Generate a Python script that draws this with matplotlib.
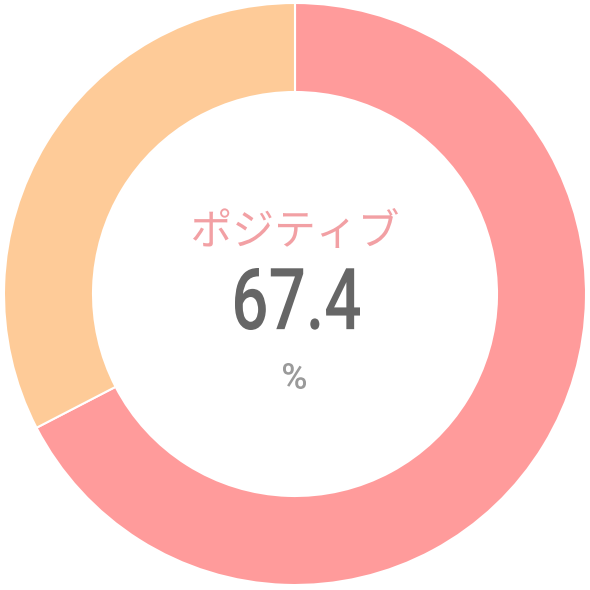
import matplotlib
matplotlib.use('Agg')
import matplotlib.pyplot as plt
from matplotlib.textpath import TextPath
from matplotlib.patches import PathPatch
from matplotlib.font_manager import FontProperties
from matplotlib.transforms import Affine2D

labels = ['ポジティブ', 'その他']
values = [67.4, 32.6]
colors = ['#FF9B9B', '#FECB98']
title_text = 'ポジティブ'
value_text = '67.4'
unit_text = '%'

W = 590
fig = plt.figure(figsize=(5.9, 5.9), dpi=100)
ax = fig.add_axes([0, 0, 1, 1])

ax.pie(values, colors=colors, startangle=90, counterclock=False,
       center=(295, W - 294), radius=291, frame=True,
       wedgeprops=dict(width=89, edgecolor='white', linewidth=1.5))
ax.set_xlim(0, W)
ax.set_ylim(0, W)
ax.set_aspect('equal')
ax.axis('off')


def text_box(s, x0, x1, y0, y1, color, prop):
    # fit the glyph ink into a box given in image pixels (y down)
    tp = TextPath((0, 0), s, size=100, prop=prop)
    ext = tp.get_extents()
    sx = (x1 - x0) / ext.width
    sy = (y1 - y0) / ext.height
    tr = (Affine2D().translate(-ext.x0, -ext.y0).scale(sx, sy)
          .translate(x0, W - y1))
    path = tr.transform_path(tp)
    ax.add_patch(PathPatch(path, facecolor=color, edgecolor='none', lw=0))


jp = FontProperties(family=['Noto Sans CJK JP'], weight='normal')
num = FontProperties(family=['Roboto'], weight='medium')

text_box(title_text, 193, 398, 208, 248, '#F2A0A4', jp)
text_box(value_text, 235, 360, 268, 330, '#666666', num)
text_box(unit_text, 283, 306, 363, 389, '#9A9A9A', num)

fig.savefig('out.png', dpi=100, facecolor='white')
